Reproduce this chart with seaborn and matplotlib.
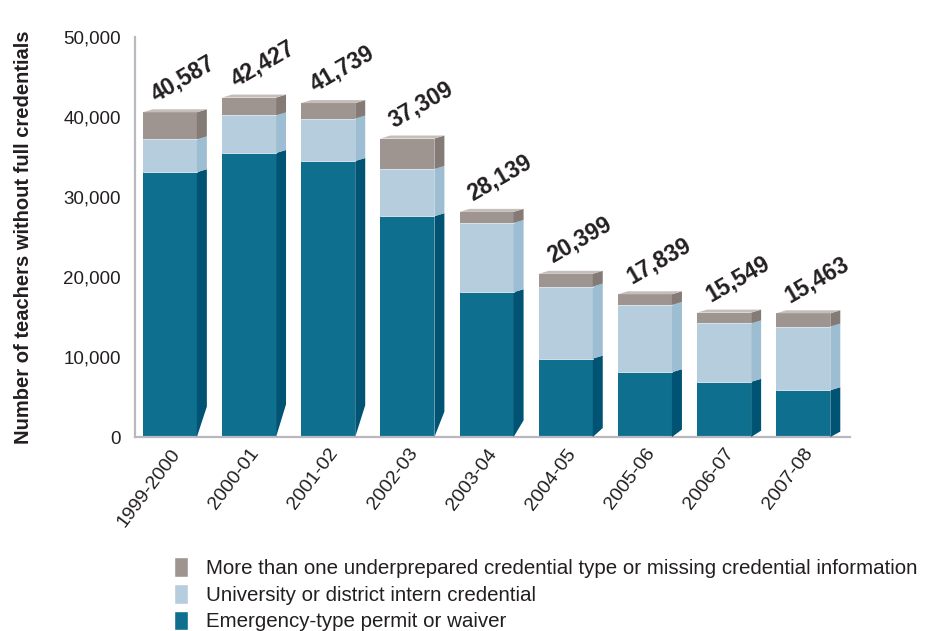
import pandas as pd

import seaborn as sns
import matplotlib.pyplot as plt
from matplotlib.patches import Polygon, Patch
from matplotlib.ticker import FuncFormatter

# data
years = ['1999-2000', '2000-01', '2001-02', '2002-03', '2003-04',
         '2004-05', '2005-06', '2006-07', '2007-08']
totals = [40587, 42427, 41739, 37309, 28139, 20399, 17839, 15549, 15463]
emergency = [33100, 35500, 34500, 27600, 18100, 9800, 8100, 6900, 5850]
intern = [4100, 4700, 5300, 5900, 8650, 9000, 8400, 7300, 7950]

labels = [
    'More than one underprepared credential type or missing credential information',
    'University or district intern credential',
    'Emergency-type permit or waiver',
]

# colours: front face, side face
C_MORE, C_MORE_SIDE, C_MORE_TOP = '#9e9590', '#857b76', '#c4bdb9'
C_INT, C_INT_SIDE = '#b5cddc', '#9dbdd2'
C_EMG, C_EMG_SIDE = '#0e6f8e', '#005373'
TXT = '#231f20'

sns.set_style('white')
plt.rcParams['font.family'] = ['Liberation Sans', 'DejaVu Sans']

df = pd.DataFrame({'year': years, 'total': totals,
                   'emergency': emergency, 'intern': intern})
df['intern_top'] = df['emergency'] + df['intern']
df['more'] = df['total'] - df['intern_top']

fig = plt.figure(figsize=(9.34, 6.31), dpi=100)
ax = fig.add_axes([135 / 934, 1 - 437 / 631, (850 - 135) / 934, 400 / 631])

W = 0.683
bar_kw = dict(x='year', width=W, saturation=1, edgecolor='none', ax=ax)
sns.barplot(data=df, y='total', color=C_MORE, **bar_kw)
sns.barplot(data=df, y='intern_top', color=C_INT, **bar_kw)
sns.barplot(data=df, y='emergency', color=C_EMG, **bar_kw)

# fake 3d: side and top faces
dx, dy = 0.126, 375
for i, row in df.iterrows():
    right = i + W / 2
    left = i - W / 2
    e, it, t = row['emergency'], row['intern_top'], row['total']
    rise = 0.115 * e
    faces = [
        ([(right, 0), (right + dx, rise), (right + dx, e + dy), (right, e)], C_EMG_SIDE),
        ([(right, e), (right + dx, e + dy), (right + dx, it + dy), (right, it)], C_INT_SIDE),
        ([(right, it), (right + dx, it + dy), (right + dx, t + dy), (right, t)], C_MORE_SIDE),
        ([(left, t), (left + dx, t + dy), (right + dx, t + dy), (right, t)], C_MORE_TOP),
    ]
    for pts, col in faces:
        ax.add_patch(Polygon(pts, closed=True, facecolor=col, edgecolor='none', zorder=3))
    for y in (e, it):
        ax.plot([left, right], [y, y], color='#d6e3ec', lw=0.7, zorder=3)

    ax.text(i - 0.14, t + 800, f'{t:,}', rotation=30, rotation_mode='anchor',
            ha='left', va='bottom', fontsize=16.5, fontweight='bold', color=TXT)

ax.set_xlim(-0.44, 8.59)
ax.set_ylim(0, 50000)
ax.set_yticks(range(0, 50001, 10000))
ax.yaxis.set_major_formatter(FuncFormatter(lambda v, p: f'{int(v):,}'))
ax.tick_params(axis='y', length=0, pad=10, labelsize=13.5, labelcolor=TXT)
ax.tick_params(axis='x', length=0, pad=6, labelsize=14, labelcolor=TXT)
plt.setp(ax.get_xticklabels(), rotation=53, ha='right', va='top',
         rotation_mode='anchor')
ax.set_xlabel('')
ax.set_ylabel('Number of teachers without full credentials', fontsize=14.5,
              fontweight='bold', color=TXT, labelpad=22)

sns.despine(ax=ax)
for side in ('left', 'bottom'):
    ax.spines[side].set_color('#b8b8be')
    ax.spines[side].set_linewidth(1.6)

handles = [Patch(facecolor=C_MORE), Patch(facecolor=C_INT), Patch(facecolor=C_EMG)]
fig.legend(handles, labels, loc='upper left', bbox_to_anchor=(164 / 934, 1 - 547 / 631),
           frameon=False, fontsize=14.8, handlelength=0.65, handleheight=1.1,
           labelspacing=0.28, handletextpad=0.9, borderpad=0, labelcolor=TXT)

fig.savefig('out.png', dpi=100)
